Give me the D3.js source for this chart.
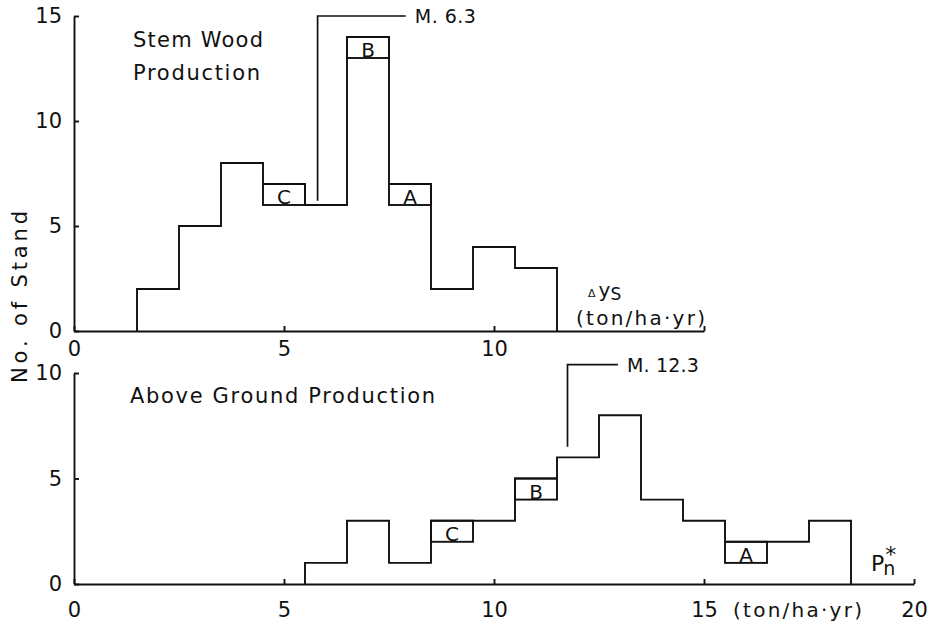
<!DOCTYPE html>
<html>
<head>
<meta charset="utf-8">
<script src="https://cdn.jsdelivr.net/npm/d3@7"></script>
<style>
  body { margin: 0; background: #fff; }
  svg text { font-family: "DejaVu Sans", sans-serif; fill: #111; }
</style>
</head>
<body>
<div id="chart"></div>
<script>
// stem wood production (top), bins of width 1
var topBinStarts = [1.5, 2.5, 3.5, 4.5, 5.5, 6.5, 7.5, 8.5, 9.5, 10.5];
var topCounts    = [2, 5, 8, 7, 6, 14, 7, 2, 4, 3];
var topMarked    = [{ bin: 4.5, label: 'C' }, { bin: 6.5, label: 'B' }, { bin: 7.5, label: 'A' }];

// above ground production (bottom)
var botBinStarts = [5.5, 6.5, 7.5, 8.5, 9.5, 10.5, 11.5, 12.5, 13.5, 14.5, 15.5, 16.5, 17.5];
var botCounts    = [1, 3, 1, 3, 3, 5, 6, 8, 4, 3, 2, 2, 3];
var botMarked    = [{ bin: 8.5, label: 'C' }, { bin: 10.5, label: 'B' }, { bin: 15.5, label: 'A' }];

var topXTicks = [0, 5, 10, 15];
var topYTicks = [0, 5, 10, 15];
var botXTicks = [0, 5, 10, 15, 20];
var botYTicks = [0, 5, 10];

// median markers (data coords)
var topMedian = { label: 'M. 6.3', x: 5.8, yLow: 6.2, yTop: 15, xEnd: 7.9 };
var botMedian = { label: 'M. 12.3', x: 11.75, yLow: 6.5, yTop: 10.4, xEnd: 12.95 };

var W = 929, H = 625;
var svg = d3.select('#chart').append('svg').attr('width', W).attr('height', H);

function panel(opts) {
    var x = d3.scaleLinear().domain(opts.xDomain).range(opts.xRange);
    var y = d3.scaleLinear().domain(opts.yDomain).range(opts.yRange);
    var g = svg.append('g');

    // axes
    var xAxis = d3.axisBottom(x).tickValues(opts.xTicks)
        .tickSizeInner(-5).tickSizeOuter(0).tickPadding(opts.xPad)
        .tickFormat(opts.xFormat || d3.format('d'));
    g.append('g').attr('transform', 'translate(0,' + opts.yRange[0] + ')').call(xAxis);

    var yAxis = d3.axisLeft(y).tickValues(opts.yTicks)
        .tickSizeInner(-5).tickSizeOuter(0).tickPadding(12);
    g.append('g').attr('transform', 'translate(' + opts.xRange[0] + ',0)').call(yAxis);

    g.selectAll('.domain, .tick line').attr('stroke', '#111').attr('stroke-width', 1.9);
    g.selectAll('.tick text').attr('font-size', 21).attr('fill', '#111')
        .style('font-family', '"DejaVu Sans", sans-serif');

    // histogram outline
    var starts = opts.starts, counts = opts.counts;
    var p = d3.path();
    p.moveTo(x(starts[0]), y(0));
    starts.forEach(function(s, i) {
        p.lineTo(x(s), y(counts[i]));
        p.lineTo(x(s + 1), y(counts[i]));
    });
    p.lineTo(x(starts[starts.length - 1] + 1), y(0));
    g.append('path').attr('d', p.toString())
        .attr('fill', 'none').attr('stroke', '#111').attr('stroke-width', 1.9);

    // marked stands (one unit box on top of the bin)
    opts.marked.forEach(function(m) {
        var c = counts[starts.indexOf(m.bin)];
        g.append('rect')
            .attr('x', x(m.bin)).attr('y', y(c))
            .attr('width', x(m.bin + 1) - x(m.bin)).attr('height', y(c - 1) - y(c))
            .attr('fill', 'none').attr('stroke', '#111').attr('stroke-width', 1.9);
        g.append('text')
            .attr('x', x(m.bin + 0.5)).attr('y', y(c - 1) - 1)
            .attr('text-anchor', 'middle').attr('font-size', 20)
            .text(m.label);
    });

    // median marker
    var md = opts.median;
    g.append('path')
        .attr('d', 'M' + x(md.x) + ',' + y(md.yLow) + 'V' + y(md.yTop) + 'H' + x(md.xEnd))
        .attr('fill', 'none').attr('stroke', '#111').attr('stroke-width', 1.7);
    g.append('text')
        .attr('x', x(md.xEnd) + 9).attr('y', y(md.yTop) + 7)
        .attr('font-size', 19).attr('textLength', opts.medianLen).attr('lengthAdjust', 'spacing')
        .text(md.label);

    return { g: g, x: x, y: y };
}

var top = panel({
    xDomain: [0, 15], xRange: [74, 704],
    yDomain: [0, 15], yRange: [331, 16],
    xTicks: topXTicks, yTicks: topYTicks, xPad: 10,
    xFormat: function(d) { return d === 15 ? '' : d; },
    starts: topBinStarts, counts: topCounts, marked: topMarked,
    median: topMedian, medianLen: 61
});

var bot = panel({
    xDomain: [0, 20], xRange: [74, 914],
    yDomain: [0, 10], yRange: [584, 373],
    xTicks: botXTicks, yTicks: botYTicks, xPad: 18,
    starts: botBinStarts, counts: botCounts, marked: botMarked,
    median: botMedian, medianLen: 72
});

// titles
function label(txt, x, y, len, size) {
    return svg.append('text').attr('x', x).attr('y', y)
        .attr('font-size', size || 20)
        .attr('textLength', len).attr('lengthAdjust', 'spacing')
        .text(txt);
}
label('Stem Wood', 133, 47, 130, 21);
label('Production', 133, 80, 127, 21);
label('Above Ground Production', 130, 403, 305, 21);

// unit labels
label('(ton/ha\u00b7yr)', 576, 325, 129);
label('(ton/ha\u00b7yr)', 733, 617, 129);

var dy = svg.append('text').attr('x', 588).attr('y', 297).attr('font-size', 20);
dy.append('tspan').attr('font-size', 11).text('\u0394');
dy.append('tspan').attr('dx', 3).text('y');
dy.append('tspan').attr('font-size', 17).attr('dy', 3).text('S');

var pn = svg.append('text').attr('x', 871).attr('y', 571).attr('font-size', 22);
pn.append('tspan').text('P');
pn.append('tspan').attr('font-size', 22).attr('dx', 1).attr('dy', -9).text('*');
pn.append('tspan').attr('font-size', 19).attr('dx', -13).attr('dy', 13).text('n');

// y axis title
svg.append('text')
    .attr('transform', 'translate(27,297) rotate(-90)')
    .attr('text-anchor', 'middle').attr('font-size', 21)
    .attr('textLength', 172).attr('lengthAdjust', 'spacing')
    .text('No. of Stand');
</script>
</body>
</html>
